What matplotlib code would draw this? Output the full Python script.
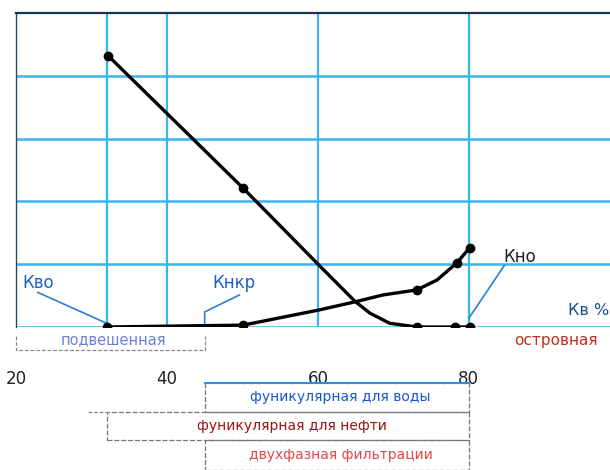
import matplotlib.pyplot as plt
from matplotlib.transforms import blended_transform_factory
from matplotlib.patches import Rectangle

# saturation Kв, % (x) and relative permeabilities (y)
kw_x = [32.2, 50.1, 60.1, 64.9, 66.9, 69.5, 73.1, 78.1, 80.1]
kw_y = [4.32, 2.21, 0.99, 0.41, 0.22, 0.06, 0.0, 0.0, 0.0]
kw_marked = [True, True, False, False, False, False, True, True, True]

ko_x = [32.0, 50.1, 60.1, 64.9, 68.6, 73.1, 75.8, 78.4, 80.1]
ko_y = [0.0, 0.03, 0.27, 0.40, 0.51, 0.59, 0.75, 1.02, 1.26]
ko_marked = [True, True, False, False, False, True, False, True, True]

tick_values = [20, 40, 60, 80]
vgrid = [20, 32, 40, 60, 80]
hgrid = [1, 2, 3, 4]

# zones below the axis
zones_x0 = [45, 32, 45]
zones_x1 = [80, 80, 80]
zones_labels = ["фуникулярная для воды", "фуникулярная для нефти", "двухфазная фильтрации"]
zones_colors = ["#1a55d0", "#9a1414", "#e04848"]

grid_color = "#3cb4ec"

fig = plt.figure(figsize=(6.1, 4.7), dpi=100)
ax = fig.add_axes([16 / 610, 143 / 470, 1 - 16 / 610, 314 / 470])
ax.set_xlim(20, 98.7)
ax.set_ylim(0, 5)

for x in vgrid:
    ax.axvline(x, color=grid_color, lw=1.6, zorder=1)
for y in hgrid:
    ax.axhline(y, color=grid_color, lw=1.8, zorder=1)
ax.axhline(0, color=grid_color, lw=1.8, zorder=1)

ax.plot(kw_x, kw_y, color="black", lw=2.4, zorder=3, solid_joinstyle="round")
ax.plot([x for x, m in zip(kw_x, kw_marked) if m],
        [y for y, m in zip(kw_y, kw_marked) if m],
        "o", color="black", ms=6, zorder=4)
ax.plot(ko_x, ko_y, color="black", lw=2.4, zorder=3, solid_joinstyle="round")
ax.plot([x for x, m in zip(ko_x, ko_marked) if m],
        [y for y, m in zip(ko_y, ko_marked) if m],
        "o", color="black", ms=6, zorder=4)

for s in ["right", "bottom"]:
    ax.spines[s].set_visible(False)
ax.spines["top"].set_color("#1c3448")
ax.spines["top"].set_linewidth(1.6)
ax.spines["left"].set_color("#2a4a66")
ax.spines["left"].set_linewidth(1.0)

ax.set_yticks([])
ax.set_xticks(tick_values)
ax.set_xticklabels([str(v) for v in tick_values], fontsize=12, color="#222222")
ax.tick_params(axis="x", length=0, pad=31)

# labels in the plot
ax.plot([22.9, 32.0], [0.55, 0.06], color="#2a7fd8", lw=1.2, zorder=2)
ax.text(20.9, 0.70, "Кво", fontsize=12, color="#1f5fc8", ha="left", va="center")
ax.plot([45.0, 45.0, 49.6], [0.0, 0.24, 0.51], color="#2a7fd8", lw=1.2, zorder=2)
ax.text(46.0, 0.70, "Кнкр", fontsize=12, color="#1f5fc8", ha="left", va="center")
ax.plot([80.0, 84.7], [0.14, 0.98], color="#2a7fd8", lw=1.2, zorder=2)
ax.text(84.6, 1.11, "Кно", fontsize=12, color="#222222", ha="left", va="center")
ax.text(93.2, 0.27, "Кв %", fontsize=11.5, color="#1a4f8a", ha="left", va="center")

tr = blended_transform_factory(ax.transData, ax.transAxes)
ax.plot([20, 20, 32, 45, 45], [-0.03, -0.073, -0.073, -0.073, -0.03],
        color="#888888", lw=0.9, ls=(0, (3, 1.5)), transform=tr, clip_on=False)
ax.text(32.9, -0.042, "подвешенная", fontsize=10.5, color="#6a80d8",
        ha="center", va="center", transform=tr)
ax.text(91.5, -0.042, "островная", fontsize=11, color="#c0301e",
        ha="center", va="center", transform=tr)

row_top = [-0.178, -0.271, -0.360]
row_h = [0.093, 0.089, 0.095]
for x0, x1, top, h, lab, col in zip(zones_x0, zones_x1, row_top, row_h,
                                    zones_labels, zones_colors):
    rect = Rectangle((x0, top - h), x1 - x0, h, fill=False, ec="#777777",
                     lw=0.9, ls=(0, (4, 1.5)), transform=tr, clip_on=False)
    ax.add_patch(rect)
    ax.text((x0 + x1) / 2 + 0.5, top - h / 2, lab, fontsize=10, color=col,
            ha="center", va="center", transform=tr)
ax.plot([45, 80], [-0.178, -0.178], color="#2a8fe0", lw=1.4, transform=tr, clip_on=False)
ax.plot([29.5, 32], [-0.271, -0.271], color="#888888", lw=0.9, ls=(0, (3, 1.5)),
        transform=tr, clip_on=False)

fig.savefig("out.png", dpi=100)
